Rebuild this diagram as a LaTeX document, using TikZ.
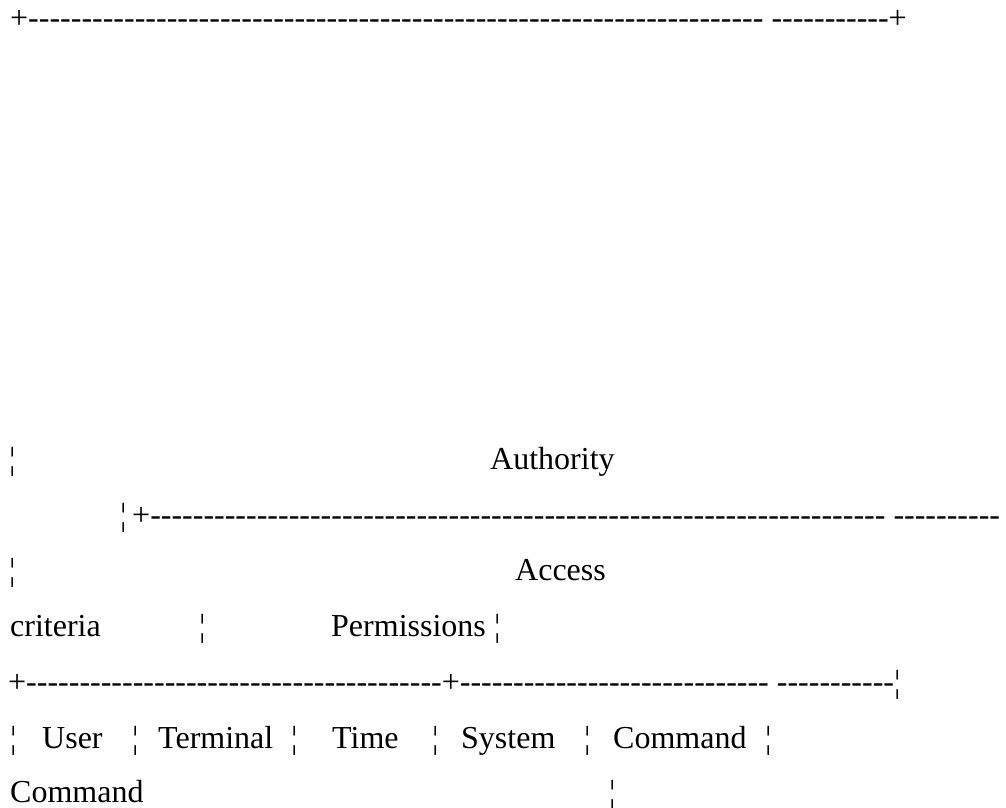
\documentclass[tikz,border=0pt]{standalone}
\usepackage{fontspec}
\setmainfont{Liberation Serif}
\newcommand\dsh[1]{\foreach\k in {1,...,#1}{-}}
\tikzset{txt/.style={anchor=base west, inner sep=0pt, font=\fontsize{32}{38}\selectfont}}
\begin{document}
\begin{tikzpicture}[x=1pt,y=-1pt]
\useasboundingbox[fill=white] (0,0) rectangle (1006,807);
% line A
\node[txt] (la) at (10,28) {+\dsh{69} \dsh{11}+};
% line B
\node[txt] (b1) at (9,469) {¦};
\node[txt] (auth) at (490,469) {Authority};
% line C
\node[txt] (c1) at (120,525) {¦};
\node[txt] (c2) at (132,525) {+\dsh{69} \dsh{10}};
% line D
\node[txt] (d1) at (9,580) {¦};
\node[txt] (acc) at (515,580) {Access};
% line E
\node[txt] (crit) at (10,636) {criteria};
\node[txt] (e1) at (199,636) {¦};
\node[txt] (perm) at (331,636) {Permissions};
\node[txt] (e2) at (494,636) {¦};
% line F
\node[txt] (lf) at (8,692) {+\dsh{39}+\dsh{29} \dsh{11}¦};
% line G
\node[txt] (g0) at (10,748) {¦};
\node[txt] (user) at (42,748) {User};
\node[txt] (g1) at (132,748) {¦};
\node[txt] (term) at (158,748) {Terminal};
\node[txt] (g2) at (291,748) {¦};
\node[txt] (time) at (332,748) {Time};
\node[txt] (g3) at (432,748) {¦};
\node[txt] (sys) at (461,748) {System};
\node[txt] (g4) at (584,748) {¦};
\node[txt] (cmd1) at (613,748) {Command};
\node[txt] (g5) at (765,748) {¦};
% line H
\node[txt] (cmd2) at (10,802) {Command};
\node[txt] (h1) at (609,802) {¦};
\end{tikzpicture}
\end{document}
